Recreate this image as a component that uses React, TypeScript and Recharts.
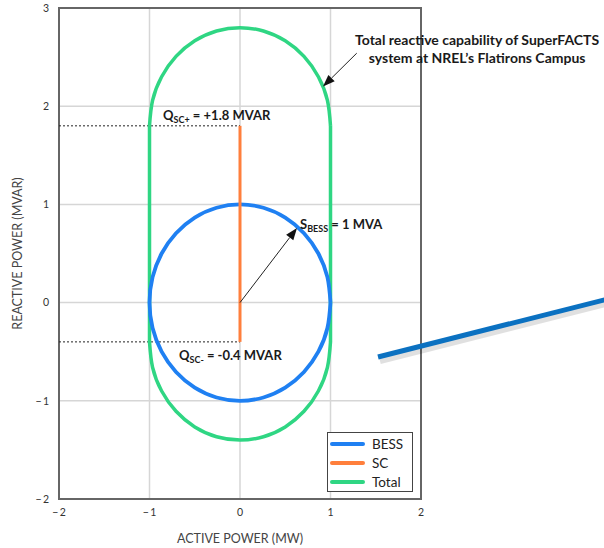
import React from 'react';
import {
  LineChart, Line, XAxis, YAxis, CartesianGrid, ReferenceLine, ReferenceDot, ReferenceArea, Label,
} from 'recharts';

// BESS apparent power circle (S = 1 MVA), points every 15 degrees
const bessCircle = [
  { x: 1, y: 0 }, { x: 0.966, y: 0.259 }, { x: 0.866, y: 0.5 }, { x: 0.707, y: 0.707 },
  { x: 0.5, y: 0.866 }, { x: 0.259, y: 0.966 }, { x: 0, y: 1 }, { x: -0.259, y: 0.966 },
  { x: -0.5, y: 0.866 }, { x: -0.707, y: 0.707 }, { x: -0.866, y: 0.5 }, { x: -0.966, y: 0.259 },
  { x: -1, y: 0 }, { x: -0.966, y: -0.259 }, { x: -0.866, y: -0.5 }, { x: -0.707, y: -0.707 },
  { x: -0.5, y: -0.866 }, { x: -0.259, y: -0.966 }, { x: 0, y: -1 }, { x: 0.259, y: -0.966 },
  { x: 0.5, y: -0.866 }, { x: 0.707, y: -0.707 }, { x: 0.866, y: -0.5 }, { x: 0.966, y: -0.259 },
  { x: 1, y: 0 },
];

// SC reactive range
const scLine = [{ x: 0, y: -0.4 }, { x: 0, y: 1.8 }];

// Total capability (stadium): top arc, bottom arc and two sides
const totalTop = [
  { x: 1, y: 1.8 }, { x: 0.966, y: 2.059 }, { x: 0.866, y: 2.3 }, { x: 0.707, y: 2.507 },
  { x: 0.5, y: 2.666 }, { x: 0.259, y: 2.766 }, { x: 0, y: 2.8 }, { x: -0.259, y: 2.766 },
  { x: -0.5, y: 2.666 }, { x: -0.707, y: 2.507 }, { x: -0.866, y: 2.3 }, { x: -0.966, y: 2.059 },
  { x: -1, y: 1.8 },
];
const totalBottom = [
  { x: -1, y: -0.4 }, { x: -0.966, y: -0.659 }, { x: -0.866, y: -0.9 }, { x: -0.707, y: -1.107 },
  { x: -0.5, y: -1.266 }, { x: -0.259, y: -1.366 }, { x: 0, y: -1.4 }, { x: 0.259, y: -1.366 },
  { x: 0.5, y: -1.266 }, { x: 0.707, y: -1.107 }, { x: 0.866, y: -0.9 }, { x: 0.966, y: -0.659 },
  { x: 1, y: -0.4 },
];
const totalLeft = [{ x: -1, y: 1.8 }, { x: -1, y: -0.4 }];
const totalRight = [{ x: 1, y: -0.4 }, { x: 1, y: 1.8 }];

const xTicks = [-2, -1, 0, 1, 2];
const yTicks = [-2, -1, 0, 1, 2, 3];

const qscPlus = 1.8;
const qscMinus = -0.4;

const BLUE = '#1f80f2';
const ORANGE = '#ff7f3c';
const GREEN = '#2fd683';
const FONT = 'Lato, "Open Sans", sans-serif';

const legendItems = [
  { name: 'BESS', color: BLUE },
  { name: 'SC', color: ORANGE },
  { name: 'Total', color: GREEN },
];

const fmtTick = (v: number) => (v < 0 ? `\u2212\u2009${-v}` : `${v}`);

// thin black arrow with filled head, drawn between the segment ends
const Arrow = (props: any) => {
  const { x1, y1, x2, y2 } = props;
  const a = Math.atan2(y2 - y1, x2 - x1);
  const len = 12;
  const half = 4.5;
  const bx = x2 - len * Math.cos(a);
  const by = y2 - len * Math.sin(a);
  const p1 = `${bx + half * Math.sin(a)},${by - half * Math.cos(a)}`;
  const p2 = `${bx - half * Math.sin(a)},${by + half * Math.cos(a)}`;
  return (
    <g>
      <line x1={x1} y1={y1} x2={bx} y2={by} stroke="#222" strokeWidth={1} />
      <polygon points={`${x2},${y2} ${p1} ${p2}`} fill="#111" />
    </g>
  );
};

const BigLine = (props: any) => {
  const { x1, y1, x2, y2 } = props;
  return (
    <g>
      <line x1={x1 + 2} y1={y1 + 4} x2={x2 + 2} y2={y2 + 4} stroke="#000" strokeOpacity={0.12} strokeWidth={6} />
      <line x1={x1} y1={y1} x2={x2} y2={y2} stroke="#0b71c1" strokeWidth={5} />
    </g>
  );
};

const SubText = ({ cx, cy, main, sub, rest }: any) => (
  <text x={cx} y={cy} fontFamily={FONT} fontSize={13} fontWeight={700} fill="#1a1a1a">
    <tspan>{main}</tspan>
    <tspan fontSize={9} dy={3}>{sub}</tspan>
    <tspan fontSize={13} dy={-3}>{rest}</tspan>
  </text>
);

const LegendBox = () => (
  <div style={{
    position: 'absolute', left: 327, top: 432, boxSizing: 'border-box',
    border: '1.5px solid #444', background: '#fff', width: 86, height: 60, padding: '1px 0',
    fontFamily: FONT, fontSize: 13.5, color: '#222',
  }}>
    {legendItems.map(it => (
      <div key={it.name} style={{ display: 'flex', alignItems: 'center', height: 19 }}>
        <span style={{ display: 'inline-block', width: 35, height: 4, background: it.color, marginLeft: 2, marginRight: 7, borderRadius: 2 }} />
        {it.name}
      </div>
    ))}
  </div>
);

export default function App() {
  return (
    <div style={{ position: 'absolute', left: 0, top: 0, width: 604, height: 548, background: '#fff', overflow: 'hidden' }}>
      <LineChart width={604} height={548} margin={{ top: 8, right: 183, bottom: 0, left: 0 }}>
        <CartesianGrid stroke="#d6d6d6" strokeWidth={1.5} />
        <XAxis
          type="number" dataKey="x" domain={[-2, 2]} ticks={xTicks} allowDataOverflow
          tickFormatter={fmtTick} tickLine={false} axisLine={false} height={49}
          tick={{ fontSize: 10.5, fill: '#333', fontFamily: FONT }} tickMargin={4}
        >
          <Label
            content={({ viewBox }: any) => (
              <text x={viewBox.x + viewBox.width / 2} y={viewBox.y + 44} textAnchor="middle"
                fontFamily={FONT} fontSize={12.5} fill="#444">ACTIVE POWER (MW)</text>
            )}
          />
        </XAxis>
        <YAxis
          type="number" dataKey="y" domain={[-2, 3]} ticks={yTicks} allowDataOverflow
          tickFormatter={fmtTick} tickLine={false} axisLine={false} width={59}
          tick={{ fontSize: 10.5, fill: '#333', fontFamily: FONT }} tickMargin={4}
        >
          <Label
            content={({ viewBox }: any) => {
              const cx = 22;
              const cy = viewBox.y + viewBox.height / 2;
              return (
                <text x={cx} y={cy} textAnchor="middle" transform={`rotate(-90 ${cx} ${cy})`}
                  fontFamily={FONT} fontSize={12.5} fill="#444">REACTIVE POWER (MVAR)</text>
              );
            }}
          />
        </YAxis>

        <ReferenceArea x1={-2} x2={2} y1={-2} y2={3} fill="none" stroke="#666" strokeWidth={2} />

        <ReferenceLine segment={[{ x: -2, y: qscPlus }, { x: 0, y: qscPlus }]} stroke="#222" strokeDasharray="2 2" strokeWidth={1} />
        <ReferenceLine segment={[{ x: -2, y: qscMinus }, { x: 0, y: qscMinus }]} stroke="#222" strokeDasharray="2 2" strokeWidth={1} />

        <Line data={totalLeft} dataKey="y" type="linear" stroke={GREEN} strokeWidth={3.5} dot={false} isAnimationActive={false} legendType="none" />
        <Line data={totalRight} dataKey="y" type="linear" stroke={GREEN} strokeWidth={3.5} dot={false} isAnimationActive={false} legendType="none" />
        <Line data={totalTop} dataKey="y" type="natural" stroke={GREEN} strokeWidth={3.5} dot={false} isAnimationActive={false} legendType="none" />
        <Line data={totalBottom} dataKey="y" type="natural" stroke={GREEN} strokeWidth={3.5} dot={false} isAnimationActive={false} legendType="none" />
        <Line data={bessCircle} dataKey="y" type="natural" stroke={BLUE} strokeWidth={3.8} dot={false} isAnimationActive={false} legendType="none" />
        <Line data={scLine} dataKey="y" type="linear" stroke={ORANGE} strokeWidth={3} dot={false} isAnimationActive={false} legendType="none" />

        <ReferenceLine segment={[{ x: 0, y: 0 }, { x: 0.63, y: 0.76 }]} shape={Arrow} ifOverflow="visible" />
        <ReferenceLine segment={[{ x: 1.29, y: 2.54 }, { x: 0.917, y: 2.2 }]} shape={Arrow} ifOverflow="visible" />
        <ReferenceLine segment={[{ x: 1.525, y: -0.554 }, { x: 4.2, y: 0.068 }]} shape={BigLine} ifOverflow="visible" />

        <ReferenceDot x={-0.85} y={1.86} ifOverflow="visible"
          shape={(p: any) => <SubText cx={p.cx} cy={p.cy} main="Q" sub="SC+" rest=" = +1.8 MVAR" />} />
        <ReferenceDot x={-0.674} y={-0.585} ifOverflow="visible"
          shape={(p: any) => <SubText cx={p.cx} cy={p.cy} main="Q" sub="SC-" rest=" = -0.4 MVAR" />} />
        <ReferenceDot x={0.663} y={0.75} ifOverflow="visible"
          shape={(p: any) => <SubText cx={p.cx} cy={p.cy} main="S" sub="BESS" rest=" = 1 MVA" />} />
        <ReferenceDot x={2.62} y={2.62} ifOverflow="visible"
          shape={(p: any) => (
            <text x={p.cx} y={p.cy} textAnchor="middle" fontFamily={FONT} fontSize={14} fontWeight={700} fill="#1a1a1a">
              Total reactive capability of SuperFACTS
            </text>
          )} />
        <ReferenceDot x={2.62} y={2.44} ifOverflow="visible"
          shape={(p: any) => (
            <text x={p.cx} y={p.cy} textAnchor="middle" fontFamily={FONT} fontSize={14} fontWeight={700} fill="#1a1a1a">
              system at NREL’s Flatirons Campus
            </text>
          )} />
      </LineChart>
      <LegendBox />
    </div>
  );
}
